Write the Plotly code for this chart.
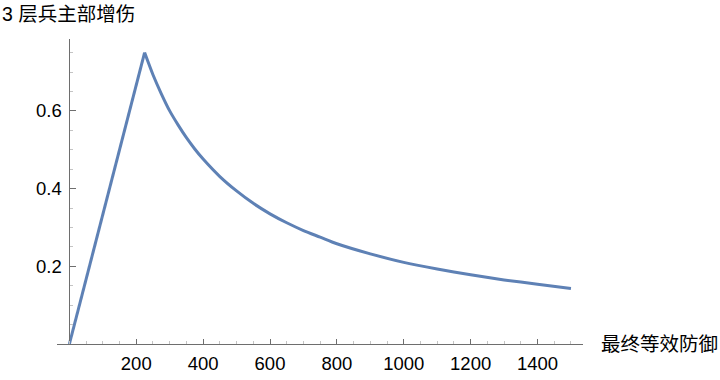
import plotly.graph_objects as go

# values
defense = [0, 225, 250, 275, 300, 325, 350, 375, 400, 450, 500, 550, 600, 650,
           700, 750, 800, 900, 1000, 1100, 1200, 1300, 1400, 1500]
bonus = [0.0, 0.75, 0.693, 0.644, 0.600, 0.564, 0.531, 0.502, 0.476, 0.431,
         0.394, 0.362, 0.335, 0.312, 0.292, 0.275, 0.258, 0.232, 0.210, 0.193,
         0.178, 0.165, 0.154, 0.143]
peak_index = 1

x_ticks = [200, 400, 600, 800, 1000, 1200, 1400]
y_ticks = [0.2, 0.4, 0.6]
title_text = "3 层兵主部增伤"
x_label = "最终等效防御"

FONT = "Liberation Sans, Arial, Noto Sans CJK SC, sans-serif"
AX = "#6e6e6e"
MINOR = "#c4c4c4"
LINE = "rgb(94,129,181)"

fig = go.Figure()
# rising part (straight)
fig.add_trace(go.Scatter(x=defense[:peak_index + 1], y=bonus[:peak_index + 1], mode="lines",
                         line=dict(color=LINE, width=3), hoverinfo="skip"))
# decaying part (smooth)
fig.add_trace(go.Scatter(x=defense[peak_index:], y=bonus[peak_index:], mode="lines",
                         line=dict(color=LINE, width=3, shape="spline", smoothing=0.8),
                         hoverinfo="skip"))

x_min, x_max = -37, 1536
y_min, y_max = 0.0, 0.785
L, R, T, B = 57, 137, 39, 36
PW = 720 - L - R
PH = 380 - T - B

fig.update_layout(
    width=720, height=380,
    margin=dict(l=L, r=R, t=T, b=B, autoexpand=False),
    paper_bgcolor="white", plot_bgcolor="white",
    showlegend=False,
    font=dict(family=FONT, size=18, color="black"),
    xaxis=dict(
        range=[x_min, x_max], showgrid=False, zeroline=False, automargin=False,
        showline=True, linecolor=AX, linewidth=1,
        tickmode="array", tickvals=x_ticks, ticktext=[str(v) for v in x_ticks],
        ticks="inside", ticklen=5, tickcolor=AX, tickwidth=1,
        minor=dict(dtick=50, tick0=0, ticks="inside", ticklen=3, tickcolor=MINOR),
        ticklabelstandoff=3,
        tickfont=dict(family=FONT, size=18.5, color="black"),
    ),
    yaxis=dict(
        range=[y_min, y_max], showgrid=False, zeroline=False, automargin=False,
        anchor="free", position=(0 - x_min) / (x_max - x_min),
        showline=True, linecolor=AX, linewidth=1,
        tickmode="array", tickvals=y_ticks, ticktext=["0.2", "0.4", "0.6"],
        ticks="inside", ticklen=6, tickcolor=AX, tickwidth=1,
        minor=dict(dtick=0.05, tick0=0, ticks="inside", ticklen=3, tickcolor=MINOR),
        ticklabelstandoff=4,
        tickfont=dict(family=FONT, size=18.5, color="black"),
    ),
    annotations=[
        dict(text=title_text, xref="paper", yref="paper", x=-L / PW, y=1 + 25 / PH,
             xanchor="left", yanchor="middle", showarrow=False,
             font=dict(family=FONT, size=19.5, color="black")),
        dict(text=x_label, xref="paper", yref="paper", x=1 + 16 / PW, y=0,
             xanchor="left", yanchor="middle", showarrow=False,
             font=dict(family=FONT, size=19.5, color="black")),
    ],
)

fig.write_html(
    "out.html",
    config={"displayModeBar": False},
    post_script="document.body.style.margin='0';document.body.style.overflow='hidden';",
)
